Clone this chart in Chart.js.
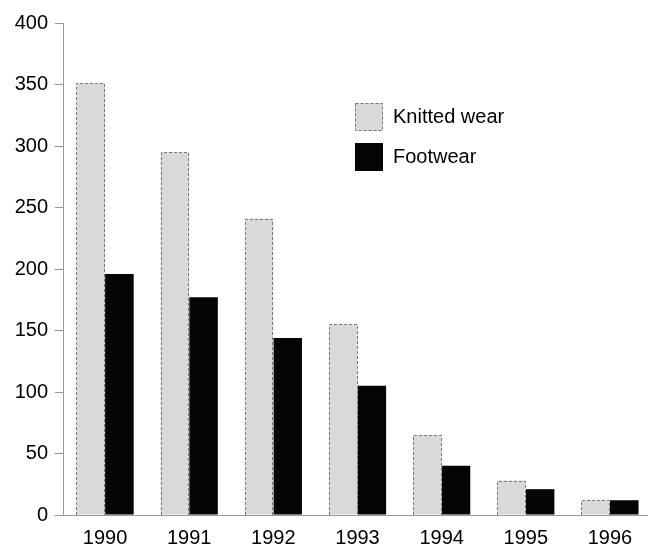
<!DOCTYPE html>
<html>
<head>
<meta charset="utf-8">
<script src="https://cdn.jsdelivr.net/npm/chart.js@4"></script>
<style>
  html, body { margin: 0; padding: 0; background: #fff; overflow: hidden; }
  #wrap { width: 652px; height: 546px; }
</style>
</head>
<body>
<div id="wrap"><canvas id="chart"></canvas></div>
<script>
// values
const years = ['1990', '1991', '1992', '1993', '1994', '1995', '1996'];
const knittedWear = [351, 295, 241, 155, 65, 28, 12];
const footwear = [196, 177, 144, 105, 40, 21, 12];
const yTicks = [0, 50, 100, 150, 200, 250, 300, 350, 400];

const font = { family: '"Liberation Sans", Arial, sans-serif', size: 20 };

// bars in Chart.js can't do dashed borders, so stroke them ourselves
const dashedBars = {
    id: 'dashedBars',
    afterDatasetsDraw(chart) {
        const ctx = chart.ctx;
        const meta = chart.getDatasetMeta(0);
        ctx.save();
        ctx.strokeStyle = '#7a7a7a';
        ctx.lineWidth = 1;
        ctx.setLineDash([3, 2]);
        meta.data.forEach(bar => {
            const left = Math.round(bar.x - bar.width / 2) + 0.5;
            const right = Math.round(bar.x + bar.width / 2) - 0.5;
            const top = Math.round(bar.y) + 0.5;
            const bottom = Math.round(bar.base);
            ctx.beginPath();
            ctx.moveTo(left, bottom);
            ctx.lineTo(left, top);
            ctx.lineTo(right, top);
            ctx.lineTo(right, bottom);
            ctx.stroke();
        });
        ctx.restore();
    }
};

// legend drawn inside the plot, top right
const boxLegend = {
    id: 'boxLegend',
    afterDraw(chart) {
        const ctx = chart.ctx;
        const x = 355, y0 = 103, gap = 40, size = 28;
        ctx.save();
        chart.data.datasets.forEach((ds, i) => {
            const y = y0 + i * gap;
            ctx.fillStyle = ds.backgroundColor;
            ctx.fillRect(x, y, size, size);
            if (i === 0) {
                ctx.strokeStyle = '#7a7a7a';
                ctx.setLineDash([3, 2]);
                ctx.strokeRect(x + 0.5, y + 0.5, size - 1, size - 1);
                ctx.setLineDash([]);
            }
            ctx.fillStyle = '#000';
            ctx.font = `${font.size}px ${font.family}`;
            ctx.textBaseline = 'middle';
            ctx.fillText(ds.label, x + 38, y + size / 2);
        });
        ctx.restore();
    }
};

new Chart(document.getElementById('chart'), {
    type: 'bar',
    data: {
        labels: years,
        datasets: [
            {
                label: 'Knitted wear',
                data: knittedWear,
                backgroundColor: '#d9d9d9',
                borderWidth: 0,
                barPercentage: 1,
                categoryPercentage: 0.68
            },
            {
                label: 'Footwear',
                data: footwear,
                backgroundColor: '#050505',
                borderWidth: 0,
                barPercentage: 1,
                categoryPercentage: 0.68
            }
        ]
    },
    options: {
        responsive: true,
        maintainAspectRatio: false,
        animation: false,
        layout: { padding: { top: 23, left: 0, right: 0, bottom: 0 } },
        plugins: {
            legend: { display: false },
            tooltip: { enabled: false }
        },
        scales: {
            x: {
                grid: { display: false },
                border: { display: true, color: '#999', width: 1 },
                ticks: { color: '#000', font: font, padding: 3, maxRotation: 0 },
                afterFit(axis) { axis.height = 31; }
            },
            y: {
                min: 0,
                max: 400,
                afterBuildTicks(axis) { axis.ticks = yTicks.map(v => ({ value: v })); },
                grid: { display: true, drawOnChartArea: false, drawTicks: true, tickLength: 8, color: '#999' },
                border: { display: true, color: '#999', width: 1 },
                ticks: { color: '#000', font: font, padding: 7 },
                afterFit(axis) { axis.width = 63; }
            }
        }
    },
    plugins: [dashedBars, boxLegend]
});
</script>
</body>
</html>
